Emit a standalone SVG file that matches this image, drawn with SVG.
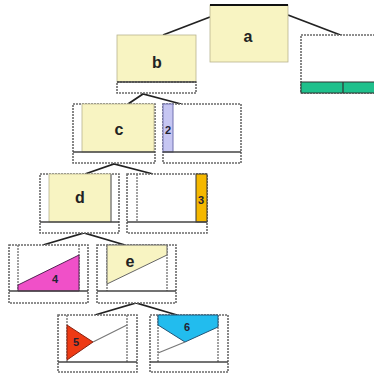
<svg xmlns="http://www.w3.org/2000/svg" width="374" height="376" viewBox="0 0 374 376">
<style>
.bg{fill:#fff}
.box{fill:#fff;stroke:#6a6a6a;stroke-width:1.6;stroke-dasharray:2 1}
.in{fill:none;stroke:#7a7a7a;stroke-width:1.4;stroke-dasharray:2 1}
.yel{fill:#f8f4c2;stroke:#b8b490;stroke-width:0.8}
.conn{fill:none;stroke:#222;stroke-width:1.8}
.lbl{font-family:"Liberation Sans",Arial,sans-serif;font-weight:bold;font-size:16px;fill:#222;text-anchor:middle}
.num{font-family:"Liberation Sans",Arial,sans-serif;font-weight:bold;font-size:11px;fill:#223;text-anchor:middle}
.dark{stroke:#444;stroke-width:1.4}
</style>
<rect class="bg" width="374" height="376"/>
<g id="connectors">
<polyline class="conn" points="163,35 210,17"/>
<polyline class="conn" points="288,15 343,36"/>
<polyline class="conn" points="128,104 143,94 181,104"/>
<polyline class="conn" points="85,174 114,164 153,174"/>
<polyline class="conn" points="43,245 84,233 125,245"/>
<polyline class="conn" points="95,315 136,303 177,315"/>
</g>
<g id="node-a">
<rect class="yel" x="210" y="5" width="78" height="57"/>
<line x1="210" y1="5" x2="288" y2="5" stroke="#111" stroke-width="2"/>
<text class="lbl" x="248" y="42">a</text>
</g>
<g id="node-b">
<rect class="yel" x="117" y="35" width="79" height="47"/>
<rect class="box" x="117" y="82" width="79" height="11"/>
<line class="dark" x1="117" y1="82" x2="196" y2="82"/>
<text class="lbl" x="157" y="68">b</text>
</g>
<g id="node-right">
<rect class="box" x="301" y="35" width="80" height="58"/>
<rect x="301" y="82" width="80" height="11" fill="#1fc08c" stroke="#333" stroke-width="1"/>
<line x1="343" y1="82" x2="343" y2="93" stroke="#333" stroke-width="1.2"/>
</g>
<g id="node-c">
<rect class="box" x="73" y="104" width="82" height="59"/>
<rect class="yel" x="82" y="104" width="72" height="48"/>
<line class="dark" x1="73" y1="152" x2="155" y2="152"/>
<text class="lbl" x="119" y="135">c</text>
</g>
<g id="node-2">
<rect class="box" x="163" y="104" width="78" height="59"/>
<rect x="163" y="104" width="10" height="48" fill="#c6c6f2" stroke="#7070b0" stroke-width="1"/>
<line class="dark" x1="163" y1="152" x2="241" y2="152"/>
<text class="num" x="168" y="134">2</text>
</g>
<g id="node-d">
<rect class="box" x="40" y="174" width="79" height="59"/>
<rect class="yel" x="49" y="174" width="62" height="48"/>
<line x1="111" y1="174" x2="111" y2="222" stroke="#888" stroke-width="1.5"/>
<line class="dark" x1="40" y1="222" x2="119" y2="222"/>
<text class="lbl" x="80" y="203">d</text>
</g>
<g id="node-3">
<rect class="box" x="127" y="174" width="80" height="59"/>
<line class="in" x1="137" y1="174" x2="137" y2="222"/>
<rect x="196" y="174" width="11" height="48" fill="#f5b800" stroke="#333" stroke-width="1"/>
<line class="dark" x1="127" y1="222" x2="207" y2="222"/>
<text class="num" x="201" y="204">3</text>
</g>
<g id="node-4">
<rect class="box" x="9" y="245" width="79" height="58"/>
<line class="in" x1="18" y1="245" x2="18" y2="291"/>
<line class="in" x1="79" y1="245" x2="79" y2="291"/>
<polygon points="18,285 79,255 79,291 18,291" fill="#f050c8" stroke="#552255" stroke-width="1"/>
<line class="dark" x1="9" y1="291" x2="88" y2="291"/>
<text class="num" x="55" y="283">4</text>
</g>
<g id="node-e">
<rect class="box" x="97" y="245" width="79" height="58"/>
<line class="in" x1="107" y1="245" x2="107" y2="291"/>
<line class="in" x1="167" y1="245" x2="167" y2="291"/>
<polygon points="107,245 167,245 167,255 107,284" fill="#f8f4c2" stroke="#666" stroke-width="1"/>
<line class="dark" x1="97" y1="291" x2="176" y2="291"/>
<text class="lbl" x="130" y="267">e</text>
</g>
<g id="node-5">
<rect class="box" x="58" y="315" width="79" height="57"/>
<line class="in" x1="67" y1="315" x2="67" y2="362"/>
<line class="in" x1="127" y1="315" x2="127" y2="362"/>
<polygon points="67,325 93,342 67,360" fill="#ee3a14" stroke="#882211" stroke-width="1"/>
<line x1="93" y1="342" x2="127" y2="325" stroke="#777" stroke-width="1.2"/>
<line class="dark" x1="58" y1="362" x2="137" y2="362"/>
<text class="num" x="76" y="346">5</text>
</g>
<g id="node-6">
<rect class="box" x="150" y="315" width="78" height="57"/>
<line class="in" x1="158" y1="315" x2="158" y2="362"/>
<line class="in" x1="218" y1="315" x2="218" y2="362"/>
<polygon points="158,315 218,315 218,327 185,342 158,325" fill="#22bcee" stroke="#225577" stroke-width="1"/>
<line x1="185" y1="342" x2="158" y2="353" stroke="#777" stroke-width="1.2"/>
<line class="dark" x1="150" y1="362" x2="228" y2="362"/>
<text class="num" x="187" y="331">6</text>
</g>
</svg>
